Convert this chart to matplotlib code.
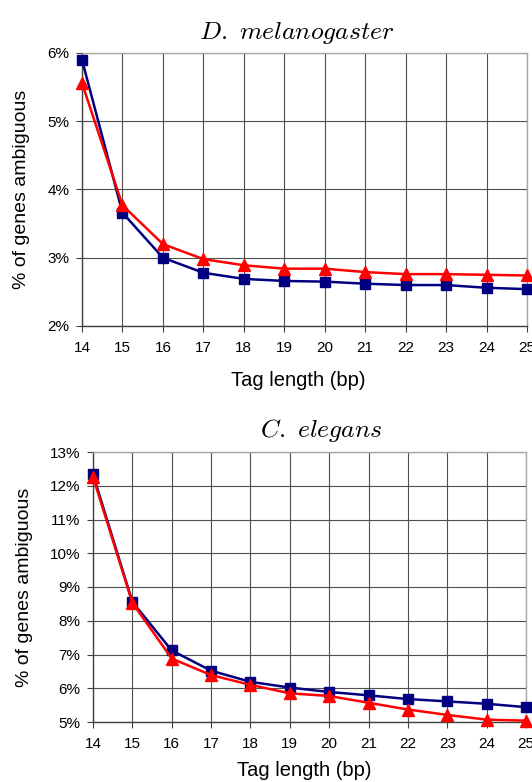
import matplotlib
matplotlib.use('Agg')
import matplotlib.pyplot as plt
from matplotlib.ticker import FuncFormatter

plt.rcParams['font.family'] = ['Liberation Sans', 'DejaVu Sans']
plt.rcParams['mathtext.fontset'] = 'cm'

tag_length = [14, 15, 16, 17, 18, 19, 20, 21, 22, 23, 24, 25]

# D. melanogaster
dm_blue = [5.90, 3.66, 3.00, 2.78, 2.69, 2.66, 2.65, 2.62, 2.60, 2.60, 2.56, 2.54]
dm_red = [5.56, 3.77, 3.20, 2.98, 2.89, 2.84, 2.84, 2.79, 2.76, 2.76, 2.75, 2.74]
dm_yticks = [2, 3, 4, 5, 6]

# C. elegans
ce_blue = [12.34, 8.56, 7.12, 6.52, 6.19, 6.02, 5.89, 5.79, 5.68, 5.61, 5.54, 5.44]
ce_red = [12.26, 8.53, 6.88, 6.39, 6.10, 5.85, 5.77, 5.57, 5.37, 5.21, 5.07, 5.04]
ce_yticks = [5, 6, 7, 8, 9, 10, 11, 12, 13]

W, H = 532, 782
fig = plt.figure(figsize=(W / 100, H / 100), dpi=100)


def make_axes(rect, blue, red, yticks, title, title_xy, ylab_x, xlab_y):
    ax = fig.add_axes(rect)
    ax.plot(tag_length, blue, color='#000080', lw=1.8, marker='s', ms=7.5,
            clip_on=False, zorder=3)
    ax.plot(tag_length, red, color='#ff0000', lw=1.8, marker='^', ms=8.5,
            clip_on=False, zorder=4)
    ax.set_xlim(tag_length[0], tag_length[-1])
    ax.set_ylim(yticks[0], yticks[-1])
    ax.set_xticks(tag_length)
    ax.set_yticks(yticks)
    ax.yaxis.set_major_formatter(FuncFormatter(lambda v, p: f'{v:.0f}%'))
    ax.grid(True, color='#505050', lw=0.8)
    ax.set_axisbelow(True)
    ax.tick_params(direction='out', length=4, width=0.8, color='#404040',
                   labelsize=11)
    ax.tick_params(axis='x', pad=7)
    ax.tick_params(axis='y', pad=5)
    for s in ['left', 'bottom']:
        ax.spines[s].set_color('#404040')
        ax.spines[s].set_linewidth(1.0)
    for s in ['top', 'right']:
        ax.spines[s].set_color('#a8a8a8')
        ax.spines[s].set_linewidth(1.0)
    ax.set_ylabel('% of genes ambiguous', fontsize=14)
    ax.yaxis.set_label_coords(ylab_x, 0.5)
    ax.set_xlabel('Tag length (bp)', fontsize=14.5)
    ax.xaxis.set_label_coords(0.487, xlab_y)
    fig.text(title_xy[0] / W, 1 - title_xy[1] / H, title, fontsize=18.5,
             ha='center', va='center')
    return ax


make_axes([82 / W, 1 - 326 / H, 445 / W, 273 / H], dm_blue, dm_red, dm_yticks,
          r'$D.$ $melanogaster$', (297, 33), -0.117, -0.165)
make_axes([93 / W, 1 - 722 / H, 433 / W, 270 / H], ce_blue, ce_red, ce_yticks,
          r'$C.$ $elegans$', (321, 430), -0.139, -0.145)

fig.savefig('out.png', dpi=100)
